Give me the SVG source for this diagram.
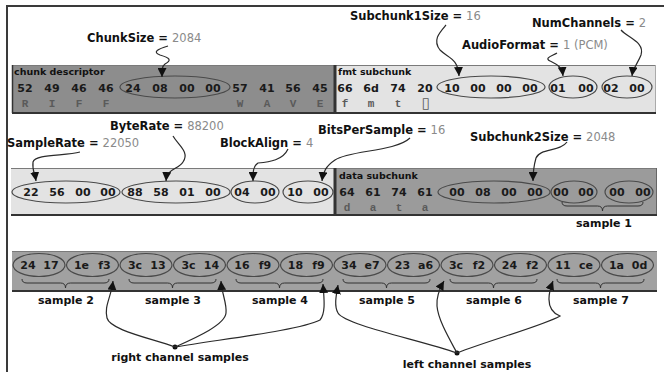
<svg xmlns="http://www.w3.org/2000/svg" width="664" height="372" viewBox="0 0 664 372">
<defs>
<marker id="ah" viewBox="0 0 9 9" refX="9" refY="4.5" markerWidth="9" markerHeight="9" markerUnits="userSpaceOnUse" orient="auto">
<path d="M0,0 L9,4.5 L0,9 z" fill="#111"/>
</marker>
</defs>
<style>
.lbl{font-family:"DejaVu Sans",Verdana,sans-serif;font-weight:bold;font-size:11.5px;fill:#111}
.val{font-weight:normal;fill:#8a8a8a}
.hex{font-family:"DejaVu Sans",Verdana,sans-serif;font-weight:bold;font-size:11px;fill:#1a1a1a;text-anchor:middle}
.asc{font-family:"Liberation Mono","DejaVu Sans Mono",monospace;font-weight:bold;font-size:11px;fill:#5a5a5a;text-anchor:middle}
.hdr{font-family:"DejaVu Sans",Verdana,sans-serif;font-weight:bold;font-size:9.5px;fill:#111}
.smp{font-family:"DejaVu Sans",Verdana,sans-serif;font-weight:bold;font-size:11px;fill:#111;text-anchor:middle}
.ell{fill:none;stroke:#4a4a4a;stroke-width:1.2}
.arr{fill:none;stroke:#2a2a2a;stroke-width:1.2;marker-end:url(#ah)}
.brc{fill:none;stroke:#333;stroke-width:1}
.top{stroke:#7a7a7a;stroke-width:1;fill:none}
.bot{stroke:#333;stroke-width:2;fill:none}
.sep{stroke:#333;stroke-width:3;fill:none}
</style>

<!-- page frame -->
<path d="M7,372 V6 H664" fill="none" stroke="#3a3a3a" stroke-width="2"/>

<!-- RIFF chunk descriptor -->
<g id="chunk-descriptor">
<rect x="12" y="65" width="323" height="48" fill="#8d8d8d"/>
<path class="top" d="M12,65.5 H335"/>
<path d="M12.5,65 V113" stroke="#333" stroke-width="1.5"/>
<text class="hdr" x="14" y="75">chunk descriptor</text>
<g class="hex">
<text x="25" y="92">52</text><text x="52" y="92">49</text><text x="79" y="92">46</text><text x="106" y="92">46</text>
<text x="133" y="92">24</text><text x="160" y="92">08</text><text x="187" y="92">00</text><text x="213" y="92">00</text>
<text x="240" y="92">57</text><text x="267" y="92">41</text><text x="293" y="92">56</text><text x="320" y="92">45</text>
</g>
<g class="asc">
<text x="25" y="107">R</text><text x="52" y="107">I</text><text x="79" y="107">F</text><text x="106" y="107">F</text>
<text x="240" y="107">W</text><text x="267" y="107">A</text><text x="293" y="107">V</text><text x="320" y="107">E</text>
</g>
<ellipse class="ell" cx="175" cy="87" rx="55" ry="11"/>
</g>

<!-- fmt subchunk -->
<g id="fmt-subchunk">
<rect x="336" y="65" width="320" height="48" fill="#e3e3e3"/>
<path class="top" d="M336,65.5 H656"/>
<path d="M655.5,65 V113" stroke="#aaa" stroke-width="1"/>
<text class="hdr" x="338" y="75">fmt subchunk</text>
<g class="hex">
<text x="345" y="92">66</text><text x="371" y="92">6d</text><text x="398" y="92">74</text><text x="425" y="92">20</text>
<text x="452" y="92">10</text><text x="478" y="92">00</text><text x="504" y="92">00</text><text x="530" y="92">00</text>
<text x="558" y="92">01</text><text x="586" y="92">00</text><text x="611" y="92">02</text><text x="637" y="92">00</text>
</g>
<g class="asc">
<text x="345" y="107">f</text><text x="371" y="107">m</text><text x="398" y="107">t</text><text x="426" y="108" style="font-family:'DejaVu Sans',sans-serif;font-weight:normal;font-size:15px">▯</text>
</g>
<ellipse class="ell" cx="491" cy="87" rx="54" ry="11"/>
<ellipse class="ell" cx="573" cy="87" rx="24" ry="11"/>
<ellipse class="ell" cx="627" cy="87" rx="25" ry="11"/>
</g>
<path class="bot" d="M12,113 H656"/>
<path class="sep" d="M335,65 V114"/>

<!-- fmt fields continued -->
<g id="fmt-fields">
<rect x="11" y="168" width="324" height="47" fill="#e3e3e3"/>
<path class="top" d="M11,168.5 H335"/>
<g class="hex">
<text x="31" y="196">22</text><text x="57" y="196">56</text><text x="83" y="196">00</text><text x="108" y="196">00</text>
<text x="135" y="196">88</text><text x="161" y="196">58</text><text x="187" y="196">01</text><text x="213" y="196">00</text>
<text x="242" y="196">04</text><text x="268" y="196">00</text><text x="295" y="196">10</text><text x="321" y="196">00</text>
</g>
<ellipse class="ell" cx="66" cy="192" rx="54" ry="11"/>
<ellipse class="ell" cx="176" cy="192" rx="54" ry="11"/>
<ellipse class="ell" cx="255" cy="192" rx="24" ry="11"/>
<ellipse class="ell" cx="308" cy="192" rx="25" ry="11"/>
</g>

<!-- data subchunk -->
<g id="data-subchunk">
<rect x="336" y="168" width="321" height="47" fill="#9b9b9b"/>
<path class="top" d="M336,168.5 H657"/>
<path d="M656.5,168 V215" stroke="#666" stroke-width="1"/>
<text class="hdr" x="339" y="179">data subchunk</text>
<g class="hex">
<text x="347" y="196">64</text><text x="373" y="196">61</text><text x="399" y="196">74</text><text x="425" y="196">61</text>
<text x="457" y="196">00</text><text x="483" y="196">08</text><text x="509" y="196">00</text><text x="535" y="196">00</text>
<text x="561" y="196">00</text><text x="586" y="196">00</text><text x="617" y="196">00</text><text x="643" y="196">00</text>
</g>
<g class="asc">
<text x="347" y="211">d</text><text x="373" y="211">a</text><text x="399" y="211">t</text><text x="425" y="211">a</text>
</g>
<ellipse class="ell" cx="494" cy="192" rx="56" ry="11"/>
<ellipse class="ell" cx="574" cy="192" rx="23" ry="11"/>
<ellipse class="ell" cx="629" cy="192" rx="24" ry="11"/>
<path class="brc" d="M562,202 q0,4 5,4 H597.5 q5,0 5,5 q0,-5 5,-5 H638 q5,0 5,-4"/>
<text class="smp" x="604" y="227">sample 1</text>
</g>
<path class="bot" d="M11,215 H657"/>
<path class="sep" d="M335,168 V216"/>

<!-- sample data -->
<g id="samples">
<rect x="12" y="251" width="645" height="40" fill="#a1a1a1"/>
<path class="top" d="M12,251.5 H657"/>
<path class="bot" d="M12,291 H657"/>
<g class="ell">
<ellipse cx="39" cy="265" rx="26" ry="11.5"/><ellipse cx="92.5" cy="265" rx="26" ry="11.5"/>
<ellipse cx="146" cy="265" rx="26" ry="11.5"/><ellipse cx="199.5" cy="265" rx="26" ry="11.5"/>
<ellipse cx="253" cy="265" rx="26" ry="11.5"/><ellipse cx="306.5" cy="265" rx="26" ry="11.5"/>
<ellipse cx="360" cy="265" rx="26" ry="11.5"/><ellipse cx="413.5" cy="265" rx="26" ry="11.5"/>
<ellipse cx="467" cy="265" rx="26" ry="11.5"/><ellipse cx="520.5" cy="265" rx="26" ry="11.5"/>
<ellipse cx="574" cy="265" rx="26" ry="11.5"/><ellipse cx="627.5" cy="265" rx="26" ry="11.5"/>
</g>
<g class="hex">
<text x="28" y="269">24</text><text x="51" y="269">17</text>
<text x="81.5" y="269">1e</text><text x="104.5" y="269">f3</text>
<text x="135" y="269">3c</text><text x="158" y="269">13</text>
<text x="188.5" y="269">3c</text><text x="211.5" y="269">14</text>
<text x="242" y="269">16</text><text x="265" y="269">f9</text>
<text x="295.5" y="269">18</text><text x="318.5" y="269">f9</text>
<text x="349" y="269">34</text><text x="372" y="269">e7</text>
<text x="402.5" y="269">23</text><text x="425.5" y="269">a6</text>
<text x="456" y="269">3c</text><text x="479" y="269">f2</text>
<text x="509.5" y="269">24</text><text x="532.5" y="269">f2</text>
<text x="563" y="269">11</text><text x="586" y="269">ce</text>
<text x="616.5" y="269">1a</text><text x="639.5" y="269">0d</text>
</g>
<g class="brc">
<path d="M22,279 q0,4 5,4 H60.5 q5,0 5,5 q0,-5 5,-5 H104 q5,0 5,-4"/>
<path d="M129,279 q0,4 5,4 H167.5 q5,0 5,5 q0,-5 5,-5 H211 q5,0 5,-4"/>
<path d="M236,279 q0,4 5,4 H274.5 q5,0 5,5 q0,-5 5,-5 H318 q5,0 5,-4"/>
<path d="M343,279 q0,4 5,4 H381.5 q5,0 5,5 q0,-5 5,-5 H425 q5,0 5,-4"/>
<path d="M450,279 q0,4 5,4 H488.5 q5,0 5,5 q0,-5 5,-5 H532 q5,0 5,-4"/>
<path d="M557,279 q0,4 5,4 H595.5 q5,0 5,5 q0,-5 5,-5 H639 q5,0 5,-4"/>
</g>
<text class="smp" x="66" y="304">sample 2</text>
<text class="smp" x="173" y="304">sample 3</text>
<text class="smp" x="280" y="304">sample 4</text>
<text class="smp" x="387" y="304">sample 5</text>
<text class="smp" x="494" y="304">sample 6</text>
<text class="smp" x="601" y="304">sample 7</text>
</g>

<!-- field labels -->
<g id="labels">
<text class="lbl" x="87" y="42">ChunkSize = <tspan class="val">2084</tspan></text>
<text class="lbl" x="350" y="20">Subchunk1Size = <tspan class="val">16</tspan></text>
<text class="lbl" x="532" y="27">NumChannels = <tspan class="val">2</tspan></text>
<text class="lbl" x="462" y="49">AudioFormat = <tspan class="val">1 (PCM)</tspan></text>
<text class="lbl" x="110" y="130">ByteRate = <tspan class="val">88200</tspan></text>
<text class="lbl" x="7" y="147">SampleRate = <tspan class="val">22050</tspan></text>
<text class="lbl" x="220" y="147">BlockAlign = <tspan class="val">4</tspan></text>
<text class="lbl" x="318" y="134">BitsPerSample = <tspan class="val">16</tspan></text>
<text class="lbl" x="470" y="141">Subchunk2Size = <tspan class="val">2048</tspan></text>
</g>

<g id="channel-labels">
<circle cx="175" cy="347" r="2.5" fill="#111"/>
<text class="smp" x="180" y="361">right channel samples</text>
<circle cx="457" cy="353" r="2.5" fill="#111"/>
<text class="smp" x="467" y="368">left channel samples</text>
</g>

<!-- connectors -->
<g id="connectors">
<path class="arr" d="M168,46 C158,49 152,52 160,55 C170,58 172,60 165,64 C162,66 162,70 162,77"/>
<path class="arr" d="M446,25 C440,32 432,40 440,50 C448,58 458,58 459,76"/>
<path class="arr" d="M557,53 C552,56 544,58 550,61 C556,64 562,66 563,76"/>
<path class="arr" d="M621,30 C628,38 645,42 641,55 C638,63 633,68 632,76"/>
<path class="arr" d="M80,152 C65,156 35,154 33,162 C32,170 35,174 36,181"/>
<path class="arr" d="M173,136 C178,145 190,152 183,162 C178,170 167,168 166,181"/>
<path class="arr" d="M288,149 C283,160 270,162 258,163 C253,166 253,172 253,181"/>
<path class="arr" d="M410,138 C395,152 350,150 335,160 C326,166 323,172 322,181"/>
<path class="arr" d="M567,142 C560,152 540,148 536,158 C534,165 533,172 533,181"/>
<path class="arr" d="M175,347 C150,338 110,330 107,318 C104,306 111,298 113,281"/>
<path class="arr" d="M175,347 C195,338 225,325 226,313 C227,303 222,295 221,281"/>
<path class="arr" d="M175,347 C230,338 300,330 320,320 C326,313 324,298 323,284"/>
<path class="arr" d="M457,353 C420,340 345,325 338,313 C334,306 336,296 338,285"/>
<path class="arr" d="M457,353 C450,340 438,320 437,306 C436,296 440,288 444,281"/>
<path class="arr" d="M457,353 C490,340 545,325 560,316 C545,310 548,294 553,281"/>
</g>
</svg>
